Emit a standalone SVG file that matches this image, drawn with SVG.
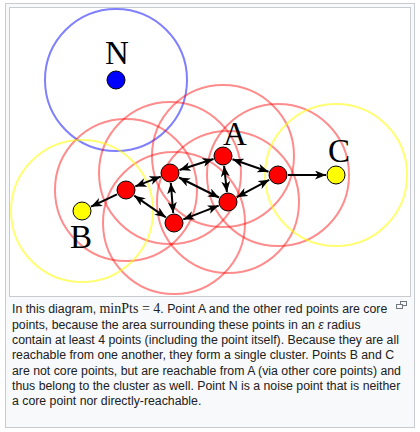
<svg xmlns="http://www.w3.org/2000/svg" width="420" height="432" viewBox="0 0 420 432">
<defs>
<style>
.ring{fill:none;stroke-width:2}
.red{stroke:#ff0000;stroke-opacity:0.45}
.yel{stroke:#ffff00;stroke-opacity:0.55}
.blu{stroke:#0000ff;stroke-opacity:0.5}
.pt{stroke:#000;stroke-width:1}
.lbl{font-family:"Liberation Serif","Times New Roman",serif;font-size:33px;fill:#000;text-anchor:middle}
.cap{font-family:"Liberation Sans",Arial,sans-serif;font-size:12.3px;fill:#202122}
.math{font-family:"Liberation Serif","Times New Roman",serif;font-size:14px}
.conn line{stroke:#000;stroke-width:2}
.dbl{marker-start:url(#ah);marker-end:url(#ah)}
.sgl{marker-end:url(#ah)}
</style>
<marker id="ah" markerUnits="userSpaceOnUse" markerWidth="12" markerHeight="10" refX="11" refY="4.5" orient="auto-start-reverse" viewBox="0 0 12 10">
<path d="M0,0 L11,4.5 L0,9 L3,4.5 z" fill="#000"/>
</marker>
</defs>
<rect x="5.5" y="3.5" width="409" height="424" fill="#f8f9fa" stroke="#c8ccd1"/>
<rect x="9.5" y="7.5" width="401" height="289" fill="#fff" stroke="#c8ccd1"/>
<g id="rings">
<circle class="ring blu" cx="116" cy="80" r="71"/>
<circle class="ring red" cx="223" cy="156" r="71"/>
<circle class="ring red" cx="170" cy="173" r="71"/>
<circle class="ring red" cx="126" cy="190" r="71"/>
<circle class="ring red" cx="174" cy="223" r="71"/>
<circle class="ring red" cx="228" cy="202" r="71"/>
<circle class="ring red" cx="278" cy="175" r="71"/>
<circle class="ring yel" cx="336" cy="175" r="71"/>
<circle class="ring yel" cx="82" cy="211" r="71"/>
</g>
<g class="conn" id="connectors">
<line class="dbl" x1="135.3" y1="186.4" x2="160.7" y2="176.6"/>
<line class="dbl" x1="179.5" y1="170.0" x2="213.5" y2="159.0"/>
<line class="dbl" x1="232.5" y1="159.3" x2="268.5" y2="171.7"/>
<line class="dbl" x1="224.1" y1="165.9" x2="226.9" y2="192.1"/>
<line class="dbl" x1="179.0" y1="177.5" x2="219.0" y2="197.5"/>
<line class="dbl" x1="170.8" y1="183.0" x2="173.2" y2="213.0"/>
<line class="dbl" x1="134.2" y1="195.7" x2="165.8" y2="217.3"/>
<line class="dbl" x1="183.3" y1="219.4" x2="218.7" y2="205.6"/>
<line class="dbl" x1="236.8" y1="197.2" x2="269.2" y2="179.8"/>
<line class="sgl" x1="288" y1="175" x2="326" y2="175"/>
<line class="sgl" x1="117.0" y1="194.3" x2="91.0" y2="206.7"/>
</g>
<g id="N"><circle class="pt" cx="116" cy="80" r="9" fill="#0000ff"/><text class="lbl" x="117" y="64">N</text></g>
<g id="A"><circle class="pt" cx="223" cy="156" r="9" fill="#ff0000"/><text class="lbl" x="235" y="145">A</text></g>
<g id="P2"><circle class="pt" cx="170" cy="173" r="9" fill="#ff0000"/></g>
<g id="P3"><circle class="pt" cx="126" cy="190" r="9" fill="#ff0000"/></g>
<g id="P4"><circle class="pt" cx="174" cy="223" r="9" fill="#ff0000"/></g>
<g id="P5"><circle class="pt" cx="228" cy="202" r="9" fill="#ff0000"/></g>
<g id="P6"><circle class="pt" cx="278" cy="175" r="9" fill="#ff0000"/></g>
<g id="C"><circle class="pt" cx="336" cy="175" r="9" fill="#ffff00"/><text class="lbl" x="339" y="162">C</text></g>
<g id="B"><circle class="pt" cx="82" cy="211" r="9" fill="#ffff00"/><text class="lbl" x="81" y="248">B</text></g>
<g id="icon" fill="none" stroke="#72777d" stroke-width="1">
<rect x="400.5" y="301.5" width="6" height="4"/>
<rect x="396.5" y="304.5" width="6" height="4" fill="#f8f9fa"/>
</g>
<g id="caption" class="cap">
<text x="12" y="313">In this diagram, <tspan class="math">minPts = 4</tspan>. Point A and the other red points are core</text>
<text x="12" y="328.5">points, because the area surrounding these points in an <tspan font-style="italic">ε</tspan> radius</text>
<text x="12" y="344">contain at least 4 points (including the point itself). Because they are all</text>
<text x="12" y="359">reachable from one another, they form a single cluster. Points B and C</text>
<text x="12" y="374.5">are not core points, but are reachable from A (via other core points) and</text>
<text x="12" y="390">thus belong to the cluster as well. Point N is a noise point that is neither</text>
<text x="12" y="405">a core point nor directly-reachable.</text>
</g>
</svg>
